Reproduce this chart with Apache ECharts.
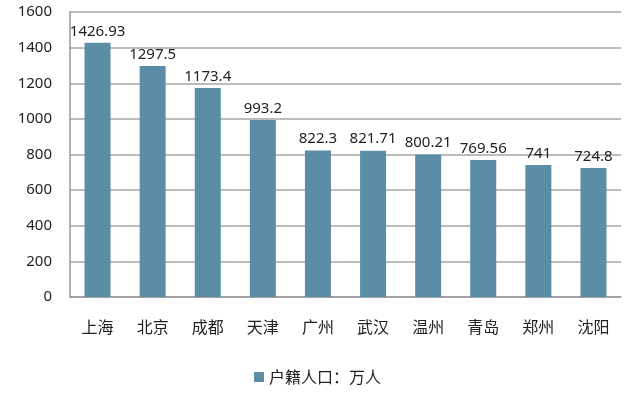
<!DOCTYPE html>
<html><head><meta charset="utf-8">
<script src="https://cdn.jsdelivr.net/npm/echarts@6/dist/echarts.min.js"></script>
<style>html,body{margin:0;padding:0;background:#fff}#c{width:635px;height:396px}</style>
</head><body><div id="c"></div>
<script>
const categories = ['上海','北京','成都','天津','广州','武汉','温州','青岛','郑州','沈阳'];
const values = [1426.93, 1297.5, 1173.4, 993.2, 822.3, 821.71, 800.21, 769.56, 741, 724.8];
const seriesName = '户籍人口：万人';
const yMin = 0, yMax = 1600, yStep = 200;

const chart = echarts.init(document.getElementById('c'));
chart.setOption({
  animation: false,
  grid: { left: 70, right: 14, top: 12, bottom: 99, containLabel: false },
  legend: {
    bottom: 6, left: 'center', itemWidth: 10, itemHeight: 10, itemGap: 6,
    icon: 'rect',
    textStyle: { fontSize: 16, color: '#222', fontFamily: 'Noto Sans CJK SC' },
    data: [seriesName]
  },
  xAxis: {
    type: 'category', data: categories,
    axisLine: { lineStyle: { color: '#999', width: 1.5 } },
    axisTick: { show: false },
    axisLabel: { fontSize: 16, color: '#222', margin: 22, fontFamily: 'Noto Sans CJK SC' }
  },
  yAxis: {
    type: 'value', min: yMin, max: yMax, interval: yStep,
    axisLine: { show: true, lineStyle: { color: '#999', width: 1.5 } },
    axisTick: { show: false },
    splitLine: { lineStyle: { color: '#a6a6a6', width: 1.5 } },
    axisLabel: { fontSize: 15, color: '#222', margin: 18, fontFamily: 'Noto Sans', formatter: v => String(v) }
  },
  series: [{
    name: seriesName, type: 'bar', data: values, barWidth: 26,
    itemStyle: { color: '#5b8ea6' },
    label: { show: true, position: 'top', distance: 4, fontSize: 15, color: '#222', fontFamily: 'Noto Sans' }
  }]
});
</script></body></html>
